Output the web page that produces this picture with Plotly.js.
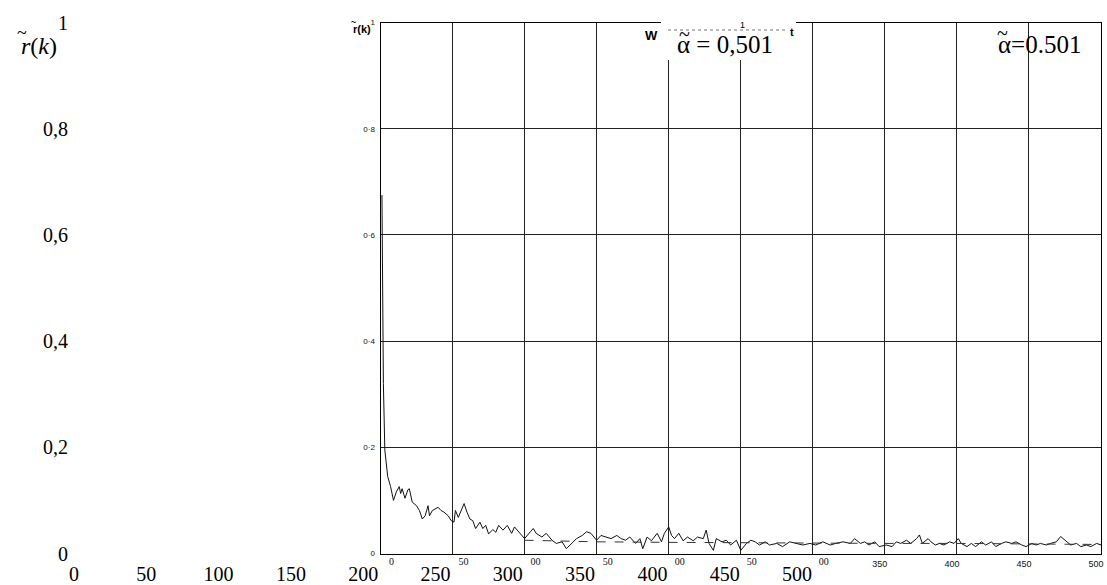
<!DOCTYPE html>
<html>
<head>
<meta charset="utf-8">
<script src="https://cdn.plot.ly/plotly-3.0.1.min.js"></script>
<style>html,body{margin:0;padding:0;background:#fff;}#chart{width:1107px;height:585px;}</style>
</head>
<body>
<div id="chart"></div>
<script>
// ---- data ----
const lagK = [1,2,3,4,5,7,9,11,13,14,15,17,19,20,22,25,27,29,31,33,34,36,40,42,44,47,49,51,52,54,57,58,60,62,64,66,69,71,73,75,78,80,82,85,88,91,93,97,100,104,106,108,112,115,119,122,126,129,133,136,140,143,146,150,153,157,160,164,167,170,173,177,180,182,185,188,192,195,197,200,202,204,207,210,213,217,220,224,226,228,231,233,237,240,243,247,250,254,257,260,263,267,270,275,279,284,289,293,298,302,307,312,316,321,326,329,333,336,339,343,346,351,355,358,361,365,368,372,374,376,380,382,385,388,391,395,398,401,403,407,410,413,417,420,424,427,431,434,438,441,445,448,452,455,458,462,465,469,472,476,479,483,486,490,493,497,500];
const acfValues = [0.675,0.32,0.195,0.163,0.145,0.126,0.100,0.116,0.126,0.113,0.122,0.104,0.120,0.122,0.097,0.090,0.081,0.065,0.071,0.090,0.071,0.081,0.087,0.081,0.078,0.071,0.062,0.059,0.081,0.068,0.087,0.094,0.078,0.065,0.062,0.047,0.059,0.047,0.053,0.037,0.045,0.040,0.053,0.044,0.053,0.038,0.050,0.038,0.028,0.041,0.047,0.038,0.031,0.038,0.025,0.019,0.022,0.009,0.019,0.028,0.034,0.041,0.038,0.025,0.034,0.031,0.028,0.034,0.028,0.025,0.031,0.019,0.028,0.009,0.031,0.024,0.038,0.022,0.038,0.050,0.034,0.028,0.038,0.024,0.031,0.024,0.031,0.028,0.044,0.019,0.006,0.028,0.022,0.025,0.016,0.025,0.006,0.019,0.025,0.022,0.016,0.022,0.016,0.019,0.013,0.022,0.019,0.016,0.019,0.016,0.022,0.016,0.019,0.022,0.019,0.028,0.019,0.022,0.016,0.022,0.013,0.016,0.013,0.022,0.019,0.025,0.019,0.028,0.035,0.019,0.028,0.022,0.016,0.019,0.016,0.022,0.019,0.028,0.019,0.013,0.019,0.013,0.022,0.016,0.022,0.013,0.019,0.022,0.019,0.022,0.016,0.013,0.019,0.016,0.019,0.016,0.019,0.022,0.032,0.022,0.016,0.019,0.013,0.016,0.013,0.019,0.016];
const dashK = [100,150,200,250,300,350,400,450,500];
const dashV = [0.025,0.022,0.021,0.020,0.020,0.019,0.019,0.018,0.017];

const gridX = [0,50,100,150,200,250,300,350,400,450,500];
const mainXText = ["","","","","","","","350","400","450","500"];
const fragXVals = [0,50,100,150,200,250,300];
const fragXText = ["0","50","00","50","00","50","00"];
const gridY = [0,0.2,0.4,0.6,0.8,1];
const smallYText = ["0","0·2","0·4","0·6","0·8","1"];
const bigXVals = [0,50,100,150,200,250,300,350,400,450,500];
const bigXText = ["0","50","100","150","200","250","300","350","400","450","500"];
const bigYText = ["0","0,2","0,4","0,6","0,8","1"];
const yLabel = "<i>r</i>(<i>k</i>)";
const smallYLabel = "<b>r(k)</b>";
const boxLabel = "\u03B1 = 0,501";
const cornerLabel = "\u03B1=0.501";
const tildeMark = "~";

// ---- layout helpers ----
const W = 1107, H = 585;
const fx = p => p / W;
const fy = p => 1 - p / H;
const serif = "'Liberation Serif', 'DejaVu Serif', serif";
const sans = "'Liberation Sans', Arial, sans-serif";
const yDom = [fy(553.5), fy(22.5)];

const traces = [
  {x: lagK, y: acfValues, xaxis: 'x', yaxis: 'y', mode: 'lines', line: {color: '#111', width: 1}, hoverinfo: 'skip'},
  {x: dashK, y: dashV, xaxis: 'x', yaxis: 'y', mode: 'lines', line: {color: '#333', width: 1, dash: 'dash'}, hoverinfo: 'skip'},
  {x: [], y: [], xaxis: 'x2', yaxis: 'y3', mode: 'lines', hoverinfo: 'skip'},
  {x: [], y: [], xaxis: 'x', yaxis: 'y2', mode: 'lines', hoverinfo: 'skip'},
  {x: [], y: [], xaxis: 'x3', yaxis: 'y', mode: 'lines', hoverinfo: 'skip'}
];

function txt(text, px, py, family, size, extra) {
  return Object.assign({text: text, xref: 'paper', yref: 'paper', x: fx(px), y: fy(py), showarrow: false,
    font: {family: family, size: size, color: '#000'}, xanchor: 'center', yanchor: 'middle'}, extra || {});
}

const layout = {
  width: W, height: H,
  margin: {l: 0, r: 0, t: 0, b: 0, pad: 0},
  paper_bgcolor: '#fff', plot_bgcolor: 'rgba(0,0,0,0)',
  showlegend: false, hovermode: false,
  xaxis: {
    domain: [fx(380.5), fx(1101)], range: [0, 500], anchor: 'y',
    tickmode: 'array', tickvals: gridX, ticktext: mainXText,
    showgrid: true, gridcolor: '#222', gridwidth: 1,
    showline: true, linecolor: '#000', linewidth: 1, mirror: true,
    zeroline: false, ticks: '', ticklabelshift: -5, ticklabelstandoff: 2,
    tickfont: {family: sans, size: 9, color: '#111'}
  },
  xaxis3: {
    overlaying: 'x', anchor: 'y', range: [0, 500],
    tickmode: 'array', tickvals: fragXVals, ticktext: fragXText,
    showgrid: false, showline: false, zeroline: false, ticks: '',
    ticklabelshift: 11, ticklabelstandoff: 0,
    tickfont: {family: serif, size: 10, color: '#111'}
  },
  yaxis: {
    domain: yDom, range: [0, 1], anchor: 'x',
    tickmode: 'array', tickvals: gridY, ticktext: smallYText,
    showgrid: true, gridcolor: '#222', gridwidth: 1,
    showline: true, linecolor: '#000', linewidth: 1, mirror: true,
    zeroline: false, ticks: '', ticklabelstandoff: 3,
    tickfont: {family: sans, size: 8, color: '#111'}
  },
  yaxis3: {domain: yDom, range: [0, 1], anchor: 'x2', visible: false},
  xaxis2: {
    domain: [fx(74), fx(797)], range: [0, 500], anchor: 'y3',
    tickmode: 'array', tickvals: bigXVals, ticktext: bigXText,
    showgrid: false, showline: false, zeroline: false, ticks: '',
    ticklabelstandoff: 6,
    tickfont: {family: serif, size: 20, color: '#000'}
  },
  yaxis2: {
    overlaying: 'y', anchor: 'free', position: fx(68), side: 'left', range: [0, 1],
    tickmode: 'array', tickvals: gridY, ticktext: bigYText,
    showgrid: false, showline: false, zeroline: false, ticks: '',
    ticklabelstandoff: 0,
    tickfont: {family: serif, size: 20, color: '#000'}
  },
  shapes: [
    {type: 'rect', xref: 'paper', yref: 'paper', x0: fx(661), x1: fx(796), y0: fy(60), y1: fy(19),
     fillcolor: '#fff', line: {width: 0}, layer: 'above'},
    {type: 'line', xref: 'paper', yref: 'paper', x0: fx(668), x1: fx(786), y0: fy(30), y1: fy(30),
     line: {color: '#777', width: 1, dash: 'dot'}, layer: 'above'}
  ],
  annotations: [
    txt(yLabel, 39, 46, serif, 24),
    txt(tildeMark, 22, 33, serif, 18),
    txt(smallYLabel, 362, 29, sans, 11),
    txt(tildeMark, 353, 22, sans, 9, {font: {family: sans, size: 9, color: '#000', weight: 'bold'}}),
    txt('<b>W</b>', 651, 35, sans, 13),
    txt(boxLabel, 725, 45, serif, 25),
    txt(tildeMark, 684, 34, serif, 20),
    txt('1', 742, 25, sans, 9),
    txt('<b>t</b>', 792, 32, sans, 11),
    txt(cornerLabel, 1039, 45, serif, 25),
    txt(tildeMark, 1002, 33, serif, 20)
  ]
};

Plotly.newPlot('chart', traces, layout, {staticPlot: true, displayModeBar: false});
</script>
</body>
</html>
